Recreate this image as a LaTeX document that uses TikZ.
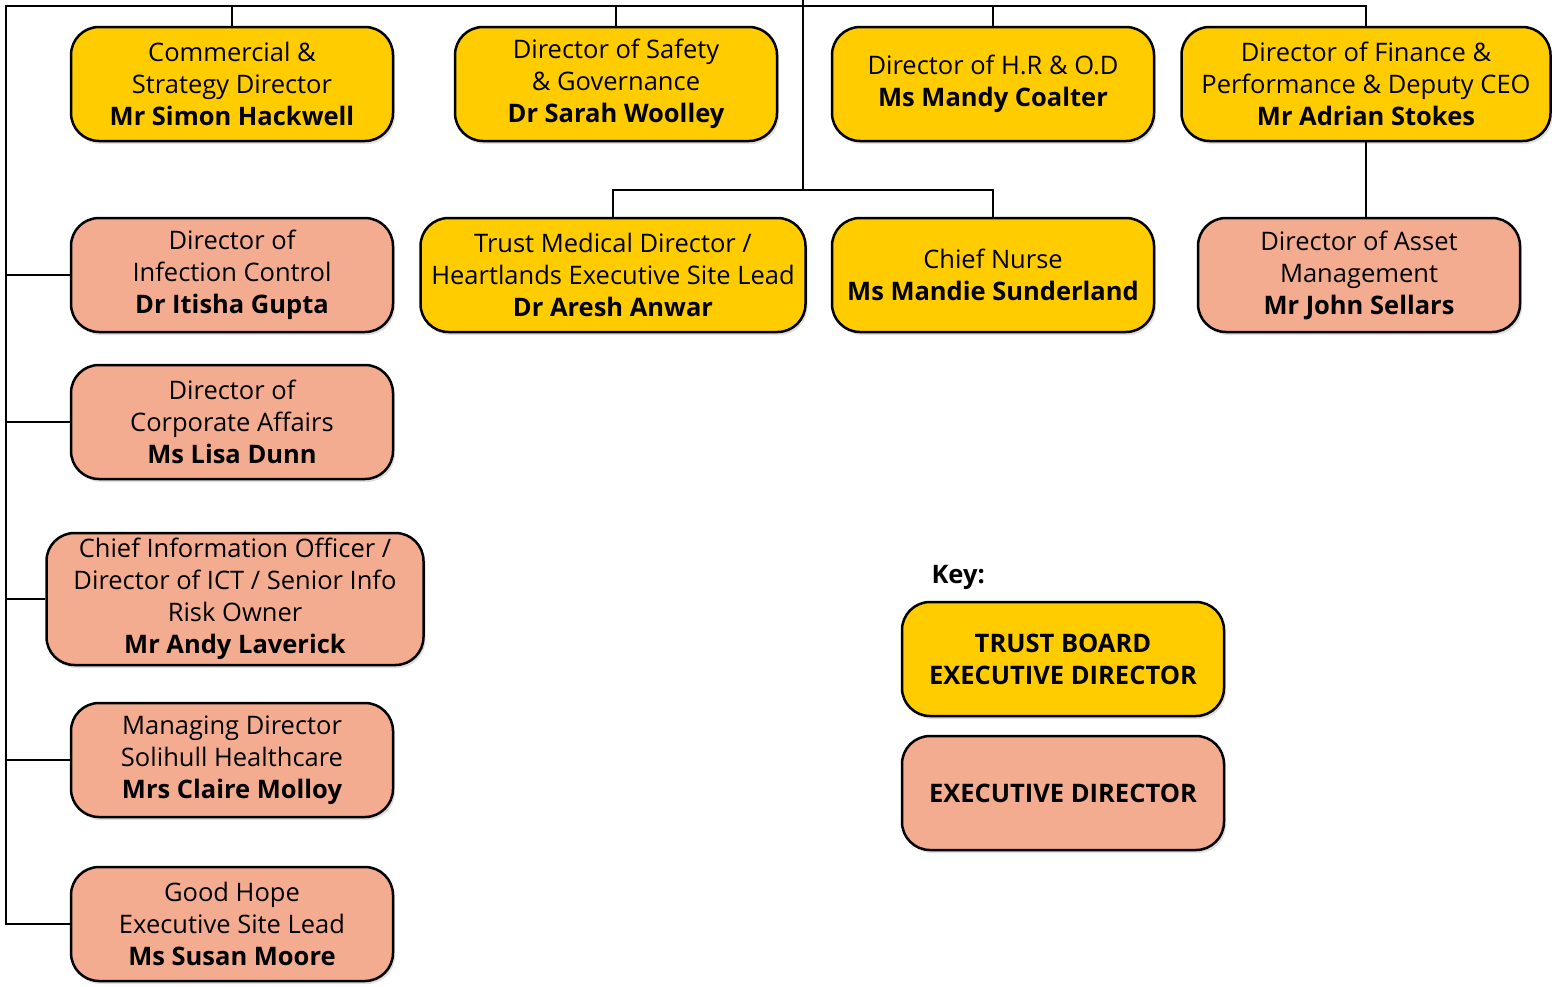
\documentclass[tikz,border=0pt]{standalone}
\usepackage{fontspec}
\setmainfont{Open Sans}
\usepackage{tikz}
\usetikzlibrary{shadows}
\definecolor{boardyellow}{HTML}{FFCC00}
\definecolor{execpink}{HTML}{F4AC90}
\tikzset{
    card/.style={draw=black, line width=2.5pt, rounded corners=28pt, inner sep=0pt,
        minimum width=322pt, minimum height=114pt, align=center,
        font=\fontsize{25.5}{32}\selectfont,
        drop shadow={shadow xshift=2pt, shadow yshift=-3pt, opacity=0.25}},
    board/.style={card, fill=boardyellow},
    execdir/.style={card, fill=execpink},
    conn/.style={draw=black, line width=2.8pt},
}
\begin{document}
\begin{tikzpicture}[x=1pt, y=-1pt]
    \useasboundingbox (0,0) rectangle (1552,986);
    % top row
    \node[board] (comm) at (232,84) {Commercial \&\\Strategy Director\\\textbf{Mr Simon Hackwell}};
    \node[board] (safety) at (616,84) {Director of Safety\\\& Governance\\\textbf{Dr Sarah Woolley}};
    \node[board] (hr) at (993,84) {Director of H.R \& O.D\\\textbf{Ms Mandy Coalter}};
    \node[board, minimum width=369pt] (fin) at (1366,84) {Director of Finance \&\\Performance \& Deputy CEO\\\textbf{Mr Adrian Stokes}};
    % second row
    \node[execdir] (infect) at (232,275) {Director of\\Infection Control\\\textbf{Dr Itisha Gupta}};
    \node[board, minimum width=385pt] (tmd) at (613,275) {Trust Medical Director /\\Heartlands Executive Site Lead\\\textbf{Dr Aresh Anwar}};
    \node[board] (nurse) at (993,275) {Chief Nurse\\\textbf{Ms Mandie Sunderland}};
    \node[execdir] (asset) at (1359,275) {Director of Asset\\Management\\\textbf{Mr John Sellars}};
    % left column
    \node[execdir] (corp) at (232,422) {Director of\\Corporate Affairs\\\textbf{Ms Lisa Dunn}};
    \node[execdir, minimum width=377pt, minimum height=132pt] (cio) at (235,599) {Chief Information Officer /\\Director of ICT / Senior Info\\Risk Owner\\\textbf{Mr Andy Laverick}};
    \node[execdir] (msh) at (232,760) {Managing Director\\Solihull Healthcare\\\textbf{Mrs Claire Molloy}};
    \node[execdir] (goodhope) at (232,924) {Good Hope\\Executive Site Lead\\\textbf{Ms Susan Moore}};
    % key
    \node[anchor=west, font=\fontsize{25.5}{32}\selectfont\bfseries] (keylabel) at (928,577) {Key:};
    \node[board] (keyboard) at (1063,659) {\textbf{TRUST BOARD}\\\textbf{EXECUTIVE DIRECTOR}};
    \node[execdir] (keyexec) at (1063,793) {\textbf{EXECUTIVE DIRECTOR}};
    % connectors
    \coordinate (corner) at (6,6);
    \coordinate (ceo) at (803,0);
    \coordinate (split) at (803,190);
    \draw[conn] (goodhope.west) -| (corner) -| (fin.north);
    \draw[conn] (comm.north) -- (comm.north |- corner);
    \draw[conn] (safety.north) -- (safety.north |- corner);
    \draw[conn] (hr.north) -- (hr.north |- corner);
    \draw[conn] (ceo) -- (split);
    \draw[conn] (tmd.north) |- (split) -| (nurse.north);
    \draw[conn] (fin.south) -- (fin.south |- asset.north);
    \draw[conn] (infect.west) -- (infect.west -| corner);
    \draw[conn] (corp.west) -- (corp.west -| corner);
    \draw[conn] (cio.west) -- (cio.west -| corner);
    \draw[conn] (msh.west) -- (msh.west -| corner);
\end{tikzpicture}
\end{document}
